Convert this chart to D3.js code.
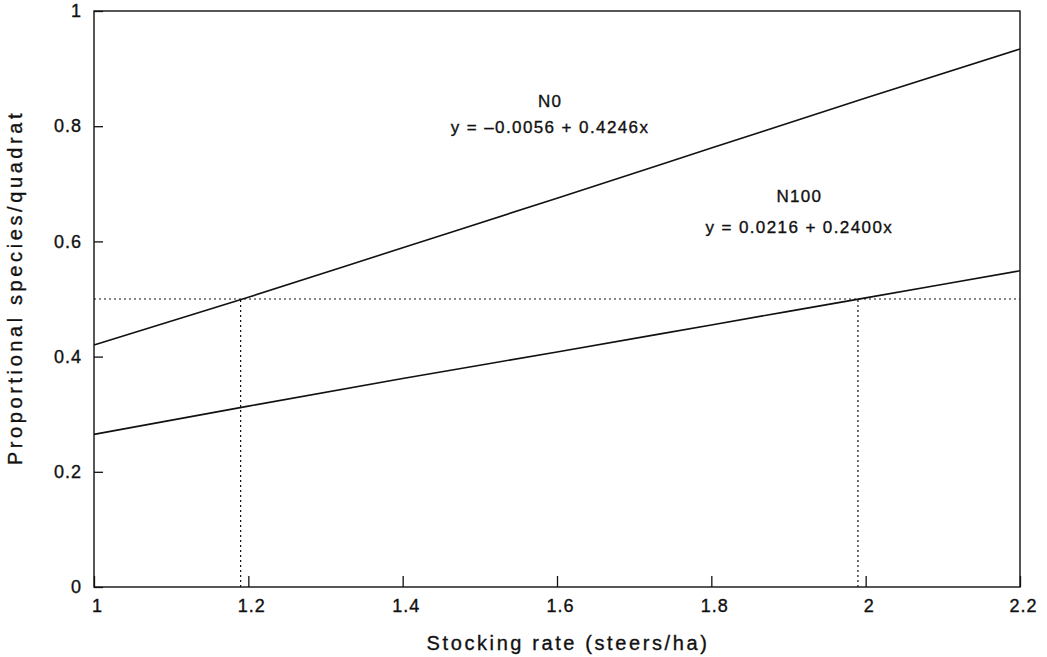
<!DOCTYPE html>
<html>
<head>
<meta charset="utf-8">
<script src="https://cdn.jsdelivr.net/npm/d3@7"></script>
<style>
  body { margin: 0; background: #fff; }
  text { font-family: "Liberation Sans", Arial, Helvetica, sans-serif; fill: #111; stroke: #111; stroke-width: 0.35px; }
</style>
</head>
<body>
<script>
// Stocking rate values along the x axis
const rates = [1.0, 1.2, 1.4, 1.6, 1.8, 2.0, 2.2];
// Fitted lines
const n0Values = [0.42, 0.503, 0.589, 0.675, 0.762, 0.849, 0.934];
const n100Values = [0.265, 0.314, 0.362, 0.408, 0.455, 0.502, 0.549];

const xTicks = [1, 1.2, 1.4, 1.6, 1.8, 2, 2.2];
const yTicks = [0, 0.2, 0.4, 0.6, 0.8, 1];

// Reference level and where each line crosses it
const refLevel = 0.5;
const crossings = [1.19, 1.99];

// Label anchors in data units (name line, then equation line)
const labels = [
  { name: "N0", eq: "y = \u20130.0056 + 0.4246x", x: 1.591, yName: 0.833, yEq: 0.788 },
  { name: "N100", eq: "y = 0.0216 + 0.2400x", x: 1.914, yName: 0.668, yEq: 0.615 }
];

const margin = { top: 11, right: 27, bottom: 70, left: 94 };
const width = 1047 - margin.left - margin.right;
const height = 657 - margin.top - margin.bottom;

const svg = d3.select("body").append("svg")
  .attr("width", 1047)
  .attr("height", 657)
  .append("g")
  .attr("transform", `translate(${margin.left}, ${margin.top})`);

const x = d3.scaleLinear().domain([1, 2.2]).range([0, width]);
const y = d3.scaleLinear().domain([0, 1]).range([height, 0]);

// Frame around the plot
svg.append("rect")
  .attr("width", width)
  .attr("height", height)
  .attr("fill", "none")
  .attr("stroke", "#111")
  .attr("stroke-width", 1.4);

// X axis: ticks point into the plot
const xAxis = svg.append("g")
  .attr("transform", `translate(0, ${height})`)
  .call(d3.axisBottom(x).tickValues(xTicks).tickFormat(d3.format("")).tickSizeInner(-11).tickSizeOuter(0).tickPadding(12));
xAxis.select(".domain").remove();
xAxis.selectAll("line").attr("stroke", "#111").attr("stroke-width", 1.3);
xAxis.selectAll("text")
  .attr("font-size", 18)
  .attr("letter-spacing", 1)
  .attr("dx", 3)
  .attr("fill", "#111");

// Y axis
const yAxis = svg.append("g")
  .call(d3.axisLeft(y).tickValues(yTicks).tickFormat(d3.format("")).tickSizeInner(-9).tickSizeOuter(0).tickPadding(12));
yAxis.select(".domain").remove();
yAxis.selectAll("line").attr("stroke", "#111").attr("stroke-width", 1.3);
yAxis.selectAll("text")
  .attr("font-size", 18)
  .attr("letter-spacing", 1)
  .attr("fill", "#111");

// Dotted reference lines
svg.append("line")
  .attr("x1", x(1)).attr("x2", x(2.2))
  .attr("y1", y(refLevel)).attr("y2", y(refLevel))
  .attr("stroke", "#111").attr("stroke-width", 1.2)
  .attr("stroke-dasharray", "2,3");

crossings.forEach(c => {
  svg.append("line")
    .attr("x1", x(c)).attr("x2", x(c))
    .attr("y1", y(0)).attr("y2", y(refLevel))
    .attr("stroke", "#111").attr("stroke-width", 1.2)
    .attr("stroke-dasharray", "2,3");
});

// Fitted lines
const line = d3.line()
  .x(d => x(d.rate))
  .y(d => y(d.value))
  .curve(d3.curveMonotoneX);

[n0Values, n100Values].forEach(vals => {
  svg.append("path")
    .datum(rates.map((r, i) => ({ rate: r, value: vals[i] })))
    .attr("d", line)
    .attr("fill", "none")
    .attr("stroke", "#111")
    .attr("stroke-width", 1.6);
});

// Line labels and equations
labels.forEach(l => {
  svg.append("text")
    .attr("x", x(l.x))
    .attr("y", y(l.yName))
    .attr("text-anchor", "middle")
    .attr("font-size", 17)
    .attr("letter-spacing", 1.3)
    .text(l.name);
  svg.append("text")
    .attr("x", x(l.x))
    .attr("y", y(l.yEq))
    .attr("text-anchor", "middle")
    .attr("font-size", 17)
    .attr("letter-spacing", 1.4)
    .text(l.eq);
});

// Axis titles
svg.append("text")
  .attr("x", width / 2 + 11)
  .attr("y", height + 63)
  .attr("text-anchor", "middle")
  .attr("font-size", 20)
  .attr("letter-spacing", 2.6)
  .text("Stocking rate (steers/ha)");

svg.append("text")
  .attr("transform", `translate(${-72}, ${y(0.52)}) rotate(-90)`)
  .attr("text-anchor", "middle")
  .attr("font-size", 20)
  .attr("letter-spacing", 3.6)
  .text("Proportional species/quadrat");
</script>
</body>
</html>
